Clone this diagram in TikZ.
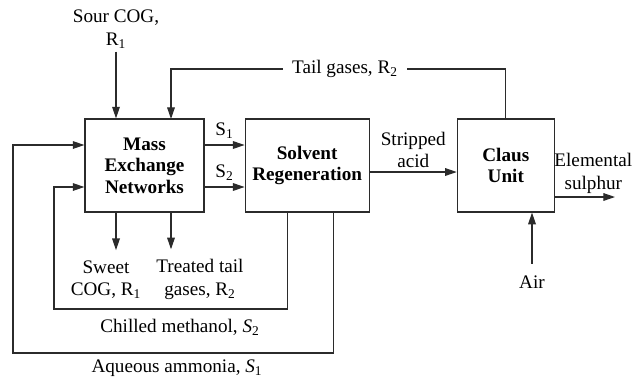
\documentclass[tikz,border=0pt]{standalone}
\usepackage{fontspec}
\setmainfont{Liberation Serif}
\definecolor{linegray}{HTML}{2B2B2B}
\usetikzlibrary{arrows.meta, positioning, calc}

\begin{document}
\begin{tikzpicture}[
        x=0.6pt, y=-0.6pt,
        font=\fontsize{11.5}{13.4}\selectfont,
        unit_box/.style={
            rectangle,
            draw=linegray,
            line width=0.7pt,
            align=center,
            inner sep=0pt,
            minimum height=55.8pt,
            font=\fontsize{11.5}{13}\selectfont\bfseries
        },
        stream_label/.style={
            align=center,
            inner sep=2pt
        },
        arrow/.style={
            -{Triangle[length=7pt, width=4.6pt]},
            draw=linegray,
            line width=0.7pt
        },
        pipe/.style={
            draw=linegray,
            line width=0.7pt
        }
    ]
    \useasboundingbox (0,0) rectangle (643,382);

    % Process units
    \node[unit_box, minimum width=71.4pt] (men) at (144.5,165.5) {Mass\\Exchange\\Networks};
    \node[unit_box, minimum width=74.4pt, right=24pt of men] (regen) {Solvent\\Regeneration};
    \node[unit_box, minimum width=58.2pt, right=52.2pt of regen] (claus) {Claus\\Unit};

    % Rich streams into and out of the MEN
    \node[stream_label] (sour) at (116,29) {Sour COG,\\R\textsubscript{1}};
    \draw[arrow] (sour.south) -- (sour.south |- men.north);

    \node[stream_label] (tail) at (345,69) {Tail gases, R\textsubscript{2}};
    \coordinate (tail_in) at (171,119);
    \draw[pipe] (claus.north) |- ([xshift=3.5pt]tail.east);
    \draw[arrow] ([xshift=-3.5pt]tail.west) -| (tail_in);

    \node[stream_label] (sweet) at (106,279.5) {Sweet\\COG, R\textsubscript{1}};
    \node[stream_label] (treated) at (200,279.5) {Treated tail\\gases, R\textsubscript{2}};
    \draw[arrow] (men.south -| sour.south) -- ([yshift=4pt]sweet.north -| sour.south);
    \draw[arrow] (men.south -| tail_in) -- ([yshift=4pt]treated.north -| tail_in);

    % Lean streams to regeneration
    \draw[arrow] ([yshift=12.3pt]men.east) -- ([yshift=12.3pt]regen.west) node[midway, above] {S\textsubscript{1}};
    \draw[arrow] ([yshift=-12.9pt]men.east) -- ([yshift=-12.9pt]regen.west) node[midway, above] {S\textsubscript{2}};

    % Claus unit
    \draw[arrow] ([yshift=-3.9pt]regen.east) -- ([yshift=-3.9pt]claus.west) node[midway, above, stream_label] {Stripped\\acid};
    \coordinate (sulphur_out) at (615,197);
    \draw[arrow] (claus.east |- sulphur_out) -- (sulphur_out) node[midway, above, xshift=5pt, stream_label] {Elemental\\sulphur};
    \node[stream_label] (air) at (532,282) {Air};
    \draw[arrow] ([yshift=5pt]air.north) -- (air.north |- claus.south);

    % Solvent recycle loops
    \coordinate (methanol_low) at (54,309);
    \coordinate (ammonia_low) at (13,353);
    \draw[arrow] ([xshift=-12pt]regen.south) |- (methanol_low) |- ([yshift=-12.9pt]men.west);
    \draw[arrow] ([xshift=15.6pt]regen.south) |- (ammonia_low) |- ([yshift=12.3pt]men.west);
    \node[stream_label] (methanol) at (180,327) {Chilled methanol, \textit{S}\textsubscript{2}};
    \node[stream_label] (ammonia) at (177,368) {Aqueous ammonia, \textit{S}\textsubscript{1}};

\end{tikzpicture}
\end{document}
